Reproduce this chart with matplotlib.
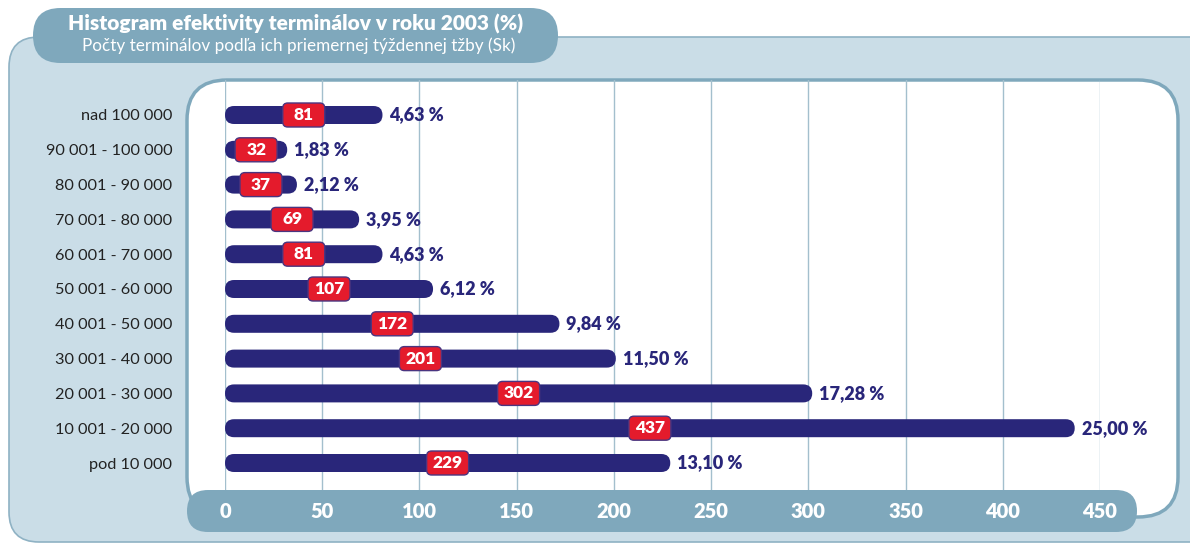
import matplotlib
matplotlib.use("Agg")
import matplotlib.pyplot as plt
from matplotlib.patches import FancyBboxPatch

plt.rcParams['font.family'] = ['Lato', 'DejaVu Sans']

# ---- data ----
categories = ["nad 100 000", "90 001 - 100 000", "80 001 - 90 000", "70 001 - 80 000",
              "60 001 - 70 000", "50 001 - 60 000", "40 001 - 50 000", "30 001 - 40 000",
              "20 001 - 30 000", "10 001 - 20 000", "pod 10 000"]
counts = [81, 32, 37, 69, 81, 107, 172, 201, 302, 437, 229]
percents = [4.63, 1.83, 2.12, 3.95, 4.63, 6.12, 9.84, 11.50, 17.28, 25.00, 13.10]
xticks = [0, 50, 100, 150, 200, 250, 300, 350, 400, 450]
title = "Histogram efektivity terminálov v roku 2003 (%)"
subtitle = "Počty terminálov podľa ich priemernej týždennej tžby (Sk)"

W, H = 1190, 544
NAVY = "#29267a"
RED = "#e41b2c"
PILL = "#7fa8bc"
PANEL = "#cadde7"
PANEL_EDGE = "#8fb2c4"
GRID = "#a3bfcd"

fig = plt.figure(figsize=(W / 100, H / 100), dpi=100)

# ---- background decoration in pixel coordinates ----
bg = fig.add_axes([0, 0, 1, 1])
bg.set_xlim(0, W)
bg.set_ylim(H, 0)
bg.axis("off")

def rbox(ax, x0, y0, x1, y1, r, **kw):
    p = FancyBboxPatch((x0 + r, y0 + r), (x1 - x0) - 2 * r, (y1 - y0) - 2 * r,
                       boxstyle=f"round,pad={r}", **kw)
    ax.add_patch(p)
    return p

rbox(bg, 9, 37, 1220, 542, 30, fc=PANEL, ec=PANEL_EDGE, lw=1.2)
rbox(bg, 187, 80, 1178, 517, 40, fc="white", ec=PILL, lw=2.5)
rbox(bg, 33, 8, 558, 63, 27.5, fc=PILL, ec="none")
rbox(bg, 187, 490, 1137, 532, 21, fc=PILL, ec="none")
bg.text(296, 24, title, color="white", fontsize=15, fontweight="heavy",
        ha="center", va="center")
bg.text(299, 46, subtitle, color="white", fontsize=12.3, ha="center", va="center")

# ---- main axes ----
x0px, x1px = 225, 1100
ytop, ybot = 80, 490
row_px = 34.8
bottom_row_px = 463
ax = fig.add_axes([x0px / W, 1 - ybot / H, (x1px - x0px) / W, (ybot - ytop) / H])
ax.patch.set_alpha(0)
ax.set_xlim(0, 450)
ylo = -(ybot - bottom_row_px) / row_px
yhi = (bottom_row_px - ytop) / row_px
ax.set_ylim(ylo, yhi)
for s in ax.spines.values():
    s.set_visible(False)

xpx = (x1px - x0px) / 450.0  # px per x unit
ypos = list(range(len(categories) - 1, -1, -1))

ax.set_xticks(xticks)
ax.set_xticklabels([str(t) for t in xticks])
ax.tick_params(axis="x", length=0, pad=9, labelcolor="white", labelsize=14.5)
for lab in ax.get_xticklabels():
    lab.set_fontweight("heavy")
ax.set_yticks(ypos)
ax.set_yticklabels(categories)
ax.tick_params(axis="y", length=0, pad=38, labelsize=11.7, labelcolor="#222222")
ax.grid(axis="x", color=GRID, lw=1)
ax.set_axisbelow(True)

bar_h_px = 18
ry = (bar_h_px / 2) / row_px
rx = (bar_h_px / 2) / xpx
aspect = ry / rx
lab_w_px, lab_h_px, lab_r_px = 42, 24, 5

for y, c, p in zip(ypos, counts, percents):
    h = bar_h_px / row_px
    bar = FancyBboxPatch((0, y - h / 2), c, h,
                         boxstyle=f"round,pad=0,rounding_size={rx}",
                         mutation_aspect=aspect, fc=NAVY, ec="none", zorder=3)
    ax.add_patch(bar)
    lw_ = lab_w_px / xpx
    lh_ = lab_h_px / row_px
    lr = lab_r_px / xpx
    lab = FancyBboxPatch((c / 2 - lw_ / 2, y - lh_ / 2), lw_, lh_,
                         boxstyle=f"round,pad=0,rounding_size={lr}",
                         mutation_aspect=(lab_r_px / row_px) / lr,
                         fc=RED, ec="#4a3580", lw=1, zorder=4)
    ax.add_patch(lab)
    ax.text(c / 2, y, str(c), color="white", fontsize=12.5, fontweight="heavy",
            ha="center", va="center", zorder=5)
    ax.annotate(f"{p:.2f}".replace(".", ",") + " %", (c, y), xytext=(5, 0),
                textcoords="offset points", color=NAVY, fontsize=13,
                fontweight="heavy", ha="left", va="center", zorder=5,
                annotation_clip=False)

fig.savefig("out.png", dpi=100)
